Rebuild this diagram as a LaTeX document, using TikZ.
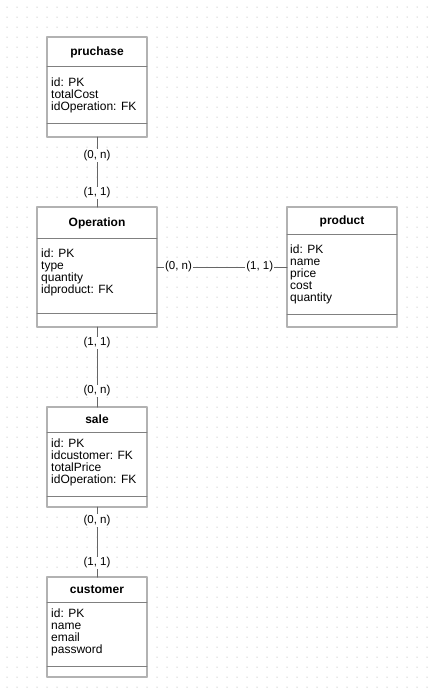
\documentclass[tikz,border=0pt]{standalone}
\usepackage{fontspec}
\setmainfont{Liberation Sans}
\begin{document}
\begin{tikzpicture}[x=1pt, y=-1pt, font=\fontsize{12}{12}\selectfont, line join=round, line cap=round,
	entity/.style={draw=gray!60, fill=white, line width=1.2pt, anchor=north west, inner sep=0pt, outer sep=0pt},
	titletext/.style={font=\fontsize{12}{12}\selectfont\bfseries, inner sep=0pt, text height=8.6pt, text depth=0pt},
	attrtext/.style={anchor=north west, inner sep=0pt, align=left},
	sepline/.style={black!50, line width=0.8pt},
	link/.style={black!60, line width=1pt},
	card/.style={fill=white, text=black, inner sep=1pt, font=\fontsize{11.5}{11.5}\selectfont}]
	\fill[white] (0,0) rectangle (428,694);
	\useasboundingbox (0,0) rectangle (428,694);
	\foreach \x in {7,17,...,427} \foreach \y in {7,17,...,687} \fill[gray!75] (\x,\y) circle(0.5pt);
	% tables
	\node[entity, minimum width=100pt, minimum height=100pt] (pruchase) at (47,37) {};
	\node[entity, minimum width=120pt, minimum height=120pt] (operation) at (37,207) {};
	\node[entity, minimum width=110pt, minimum height=120pt] (product) at (287,207) {};
	\node[entity, minimum width=100pt, minimum height=100pt] (sale) at (47,407) {};
	\node[entity, minimum width=100pt, minimum height=100pt] (customer) at (47,577) {};
	\foreach \lx/\rx/\ya/\yb in {47/147/66/123, 37/157/238/313, 287/397/234/314, 47/147/432/496, 47/147/602/666}{
		\draw[sepline] (\lx,\ya) -- (\rx,\ya);
		\draw[sepline] (\lx,\yb) -- (\rx,\yb);
	}
	% titles
	\node[titletext] (pruchaseT) at (97,51.5) {pruchase};
	\node[titletext] (operationT) at (97,222.5) {Operation};
	\node[titletext] (productT) at (342,220.5) {product};
	\node[titletext] (saleT) at (97,419.5) {sale};
	\node[titletext] (customerT) at (97,589.5) {customer};
	% fields
	\node[attrtext] (pruchaseA) at (51,77.3) {id: PK\\totalCost\\idOperation: FK};
	\node[attrtext] (operationA) at (41,249) {id: PK\\type\\quantity\\idproduct: FK};
	\node[attrtext] (productA) at (290,245) {id: PK\\name\\price\\cost\\quantity};
	\node[attrtext] (saleA) at (51,439) {id: PK\\idcustomer: FK\\totalPrice\\idOperation: FK};
	\node[attrtext] (customerA) at (51,609) {id: PK\\name\\email\\password};
	% relations
	\draw[link] (pruchase) -- node[card, pos=0.26] {(0, n)} node[card, pos=0.8] {(1, 1)} (operation);
	\draw[link] (operation) -- node[card, pos=0.2] {(1, 1)} node[card, pos=0.8] {(0, n)} (sale);
	\draw[link] (sale) -- node[card, pos=0.19] {(0, n)} node[card, pos=0.8] {(1, 1)} (customer);
	\draw[link] (operation) -- node[card, pos=0.165] {(0, n)} node[card, pos=0.79] {(1, 1)} (product);
\end{tikzpicture}
\end{document}
